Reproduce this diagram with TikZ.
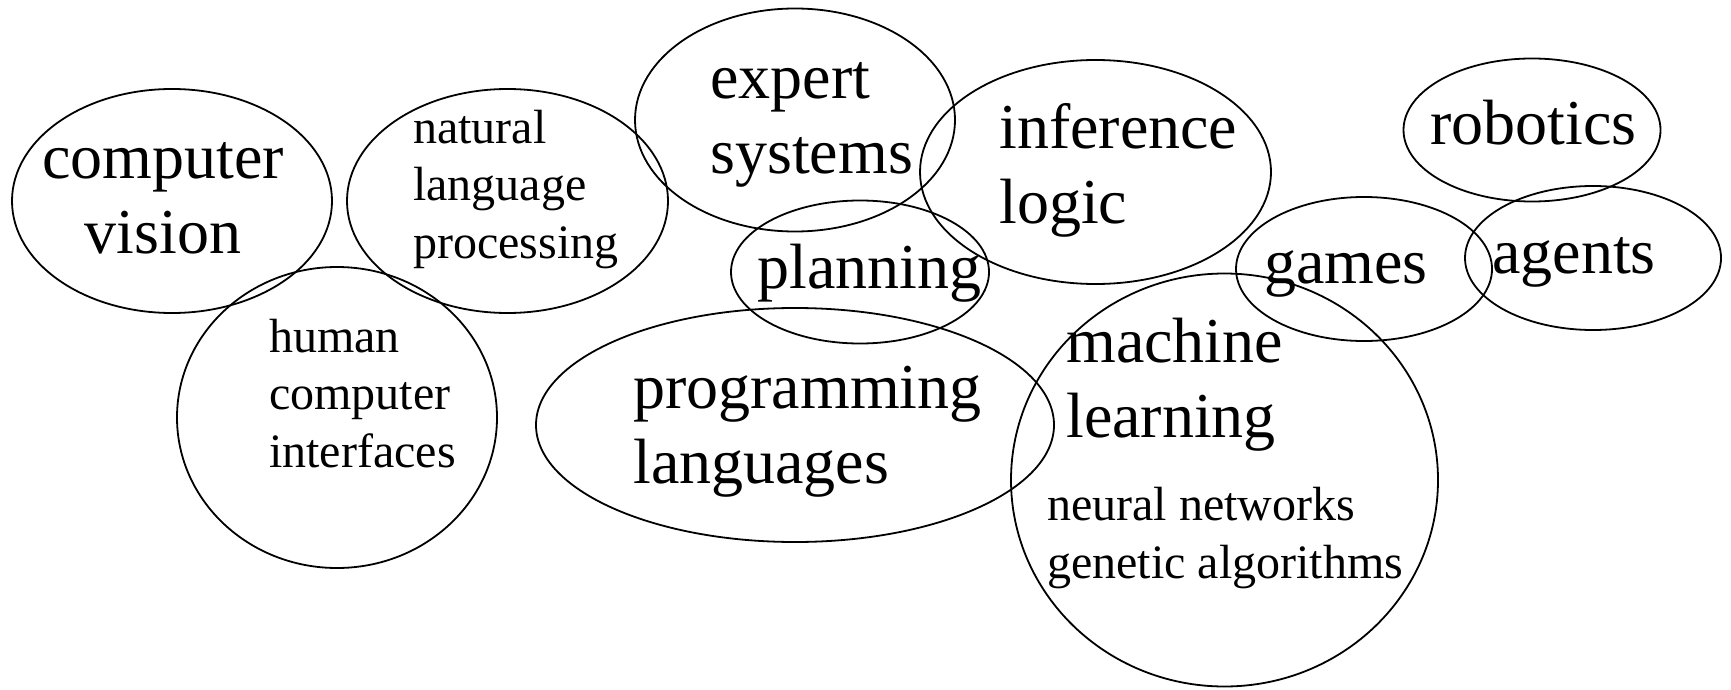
\documentclass[tikz,border=0pt]{standalone}
\usepackage{fontspec}
\setmainfont{Liberation Serif}
\usetikzlibrary{shapes.geometric}
\newcommand{\bigtext}{\fontsize{64}{75}\selectfont}
\newcommand{\smalltext}{\fontsize{48}{57.5}\selectfont}

\begin{document}
\begin{tikzpicture}[x=1pt, y=-1pt,
  field/.style={draw, ellipse, line width=1.8pt, inner sep=0pt},
  big/.style={font=\bigtext, inner sep=0pt, align=left, anchor=base west},
  small/.style={font=\smalltext, inner sep=0pt, align=left, anchor=base west}]
\useasboundingbox (0,0) rectangle (1731,690);
% topic areas
\node[field, minimum width=320pt, minimum height=224pt] (cv) at (172,201) {};
\node[field, minimum width=321pt, minimum height=224pt] (nlp) at (507.5,201) {};
\node[field, minimum width=320pt, minimum height=301pt] (hci) at (337,417.5) {};
\node[field, minimum width=320pt, minimum height=223pt] (es) at (795,120) {};
\node[field, minimum width=351pt, minimum height=224pt] (il) at (1095.5,172) {};
\node[field, minimum width=258pt, minimum height=143pt] (pn) at (860,272) {};
\node[field, minimum width=518pt, minimum height=234pt] (pr) at (795,425) {};
\node[field, minimum width=427pt, minimum height=413pt] (ml) at (1224.5,480) {};
\node[field, minimum width=257pt, minimum height=143pt] (rb) at (1532,130) {};
\node[field, minimum width=256pt, minimum height=144pt] (gm) at (1364,269) {};
\node[field, minimum width=256pt, minimum height=144pt] (ag) at (1593,258) {};
% labels (base = last line)
\node[big, align=center, anchor=base] (cvtext) at (163,253) {computer\\vision};
\node[small] (nlptext) at (413,258) {natural\\language\\processing};
\node[small] (hcitext) at (269,467) {human\\computer\\interfaces};
\node[big] (estext) at (710,173) {expert\\systems};
\node[big] (iltext) at (999,223) {inference\\logic};
\node[big] (pntext) at (757,288) {planning};
\node[big] (prtext) at (633,483) {programming\\languages};
\node[big] (mltext) at (1066,437) {machine\\learning};
\node[small] (nntext) at (1047,578) {neural networks\\genetic algorithms};
\node[big] (rbtext) at (1430,145) {robotics};
\node[big] (gmtext) at (1264,283) {games};
\node[big] (agtext) at (1492,273) {agents};
\end{tikzpicture}
\end{document}
